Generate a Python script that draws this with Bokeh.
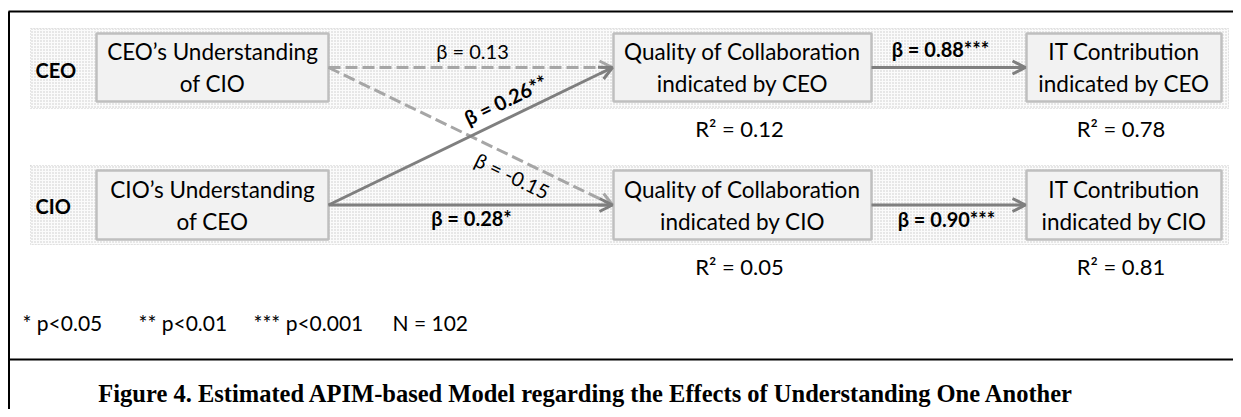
from bokeh.plotting import figure
from bokeh.models import Range1d, Arrow, OpenHead
from bokeh.core.properties import value
from bokeh.embed import file_html
from bokeh.resources import INLINE
import math

# ---- content ----
roles = ["CEO", "CIO"]
box_line1 = ["CEO’s Understanding", "Quality of Collaboration", "IT Contribution",
             "CIO’s Understanding", "Quality of Collaboration", "IT Contribution"]
box_line2 = ["of CIO", "indicated by CEO", "indicated by CEO",
             "of CEO", "indicated by CIO", "indicated by CIO"]
r2_labels = ["R² = 0.12", "R² = 0.78", "R² = 0.05", "R² = 0.81"]
# paths: (from box, to box, label, significant)
path_from = [0, 0, 3, 3, 1, 4]
path_to = [1, 4, 1, 4, 2, 5]
path_labels = ["β = 0.13", "β = -0.15", "β = 0.26**", "β = 0.28*", "β = 0.88***", "β = 0.90***"]
path_signif = [False, False, True, True, True, True]
notes = ["* p<0.05", "** p<0.01", "*** p<0.001", "N = 102"]
caption = "Figure 4. Estimated APIM-based Model regarding the Effects of Understanding One Another"

# ---- layout (page pixels) ----
col_x = [(96, 328), (613, 871), (1026, 1221)]
row_y = [(33, 101), (170, 239)]
label_pos = [(472, 50), (512, 175), (505, 99), (471, 217), (940, 48), (946, 218)]
FONT = value("Lato")

W, H = 1233, 409
p = figure(width=W, height=H, x_range=Range1d(0, W), y_range=Range1d(H, 0),
           output_backend="svg", toolbar_location=None, min_border=0)
p.axis.visible = False
p.grid.visible = False
p.outline_line_color = None
p.background_fill_color = "white"

# frame
p.line([8.5, 8.5], [11, 417], line_color="black", line_width=2)
p.line([8, 1241], [11, 11], line_color="black", line_width=2)
p.line([8, 1241], [359, 359], line_color="black", line_width=2)

# dotted bands
p.quad(left=[30, 30], right=[1228, 1228], top=[28, 165], bottom=[108, 244],
       fill_color="#fbfbfb", hatch_pattern=".", hatch_color="#c8c8c8", hatch_scale=3,
       line_color="#cfcfcf", line_dash="1 2", line_width=1)

# role labels
p.text(x=[35, 35], y=[69, 205], text=roles, text_font=FONT, text_font_style="bold",
       text_font_size="20px", text_baseline="middle", text_align="left", text_color="black")

# boxes
bl, br, bt, bb, cx, cy = [], [], [], [], [], []
for r in range(2):
    for c in range(3):
        bl.append(col_x[c][0]); br.append(col_x[c][1])
        bt.append(row_y[r][0]); bb.append(row_y[r][1])
        cx.append((col_x[c][0] + col_x[c][1]) / 2)
        cy.append((row_y[r][0] + row_y[r][1]) / 2)
p.quad(left=bl, right=br, top=bt, bottom=bb, fill_color="#f2f2f2",
       line_color="#bfbfbf", line_width=2.5)
p.text(x=cx, y=[y - 16 for y in cy], text=box_line1, text_font=FONT, text_font_size="22.5px",
       text_align="center", text_baseline="middle", text_color="black")
p.text(x=cx, y=[y + 16 for y in cy], text=box_line2, text_font=FONT, text_font_size="22.5px",
       text_align="center", text_baseline="middle", text_color="black")

# R2 labels under endogenous boxes
r2_boxes = [1, 2, 4, 5]
p.text(x=[cx[i] - 3 for i in r2_boxes], y=[bb[i] + 27 for i in r2_boxes], text=r2_labels,
       text_font=FONT, text_font_size="22px", text_align="center", text_baseline="middle",
       text_color="black")

# arrows
for k in range(len(path_from)):
    a, b = path_from[k], path_to[k]
    xs, ys = br[a], cy[a]
    xe, ye = bl[b], cy[b]
    color = "#7f7f7f" if path_signif[k] else "#a6a6a6"
    dash = "solid" if path_signif[k] else "12 5"
    p.add_layout(Arrow(x_start=xs, y_start=ys, x_end=xe - 1, y_end=ye,
                       line_color=color, line_width=3, line_dash=dash,
                       end=OpenHead(size=13, line_color=color, line_width=3)))
    ang = -math.atan2(ye - ys, xe - xs)  # screen angle (y axis inverted)
    lx, ly = label_pos[k]
    p.text(x=[lx], y=[ly], text=[path_labels[k]], angle=[ang], text_font=FONT,
           text_font_size="20px", text_font_style="bold" if path_signif[k] else "normal",
           text_align="center", text_baseline="middle", text_color="black")

# notes
p.text(x=[22, 138, 253, 392], y=[322] * 4, text=notes, text_font=FONT, text_font_size="21px",
       text_align="left", text_baseline="middle", text_color="black")

# caption
p.text(x=[586], y=[393], text=[caption], text_font=value("Liberation Serif"),
       text_font_style="bold", text_font_size="24.5px", text_align="center",
       text_baseline="middle", text_color="black")

open("out.html", "w").write(file_html(p, INLINE))
